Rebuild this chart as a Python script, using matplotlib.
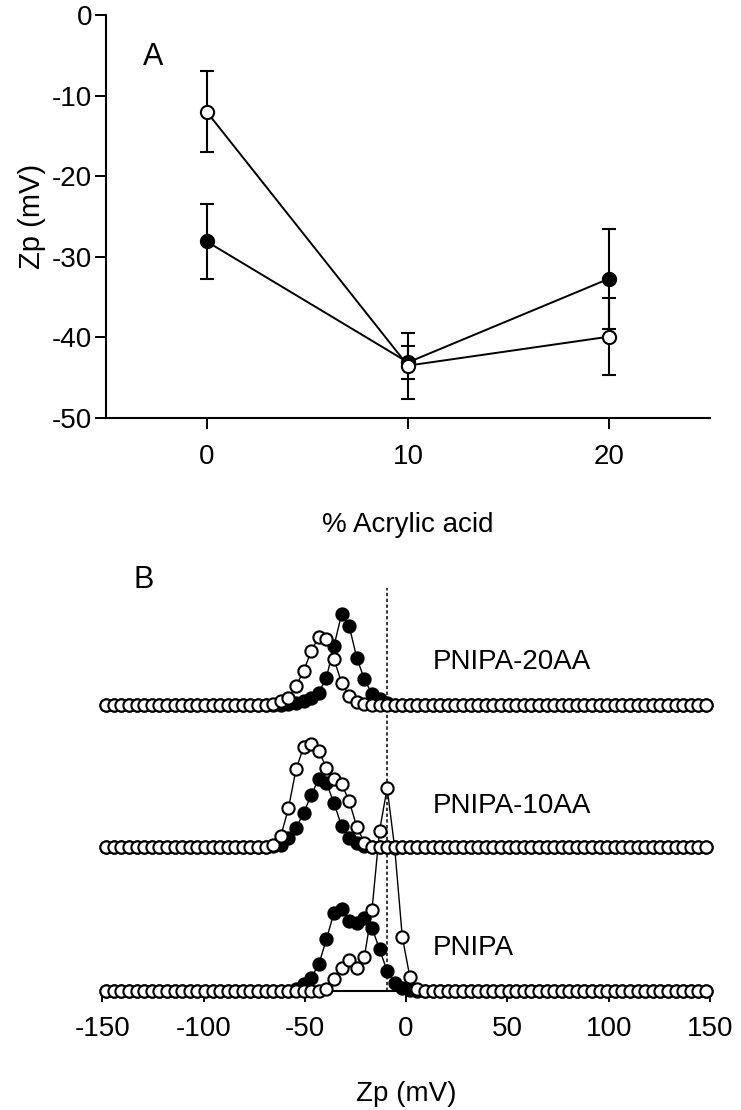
import numpy as np
import matplotlib
matplotlib.use("Agg")
import matplotlib.pyplot as plt

plt.rcParams['font.family'] = ['Liberation Sans', 'DejaVu Sans']
plt.rcParams['axes.unicode_minus'] = False

# ---------------- Panel A data ----------------
acrylic = [0, 10, 20]
zp_open = [-12.0, -43.5, -39.9]
err_open = [5.0, 4.1, 4.8]
zp_filled = [-28.1, -43.1, -32.7]
err_filled = [4.7, 2.05, 6.2]

# ---------------- Panel B data ----------------
n_bins = 80
zp_grid = np.linspace(-148, 148, n_bins)   # zeta potential bins (mV)

# peak segments (intensity, arbitrary units) starting at given bin index
top_open_start = 21
top_open_vals = [0.5, 1.3, 4, 7.3, 19, 34, 54, 68, 65.7, 45.7, 22.3, 9, 3.3, 0.7]
top_filled_start = 24
top_filled_vals = [1, 2, 4.5, 7.3, 12.3, 27.3, 59, 90.7, 79, 47.3, 25.7, 11.3, 5.7, 2]

mid_open_start = 21
mid_open_vals = [0.5, 2, 11, 38.7, 77.7, 100, 102.7, 96, 79.3, 68.3, 63.3, 46, 20.3, 4.3, 0.5]
mid_filled_start = 22
mid_filled_vals = [1, 2, 9, 19, 34, 52, 68, 64, 44, 21, 9, 4, 1.5, 0.5]

bot_open_start = 28
bot_open_vals = [0.5, 1.7, 11.7, 23.3, 30.7, 23.3, 34, 80.7, 160, 203, 143, 54, 14, 1.7, 0.5]
bot_filled_start = 25
bot_filled_vals = [2, 6.7, 13.3, 26.7, 51.7, 78.3, 81.7, 70, 68.3, 73.3, 63.3, 41.7, 20, 8, 3, 1, 0.5]

offsets = {'PNIPA': 0, 'PNIPA-10AA': 144, 'PNIPA-20AA': 286}
ref_line_x = -9.4
ref_line_top = 403


def full(start, vals):
    y = np.zeros(n_bins)
    y[start:start + len(vals)] = vals
    return y


W, H = 741, 1110
fig = plt.figure(figsize=(W / 100, H / 100), dpi=100)
FS = 20

# ---------------- Panel A ----------------
axA = fig.add_axes([106 / W, 1 - 418 / H, 604 / W, 403 / H])
common = dict(color='black', lw=1.4, elinewidth=1.5, capsize=5, capthick=1.5,
              ms=9.5, mew=1.5, mec='black', clip_on=False)
axA.errorbar(acrylic, zp_filled, yerr=err_filled, fmt='-o', mfc='black', zorder=3, **common)
axA.errorbar(acrylic, zp_open, yerr=err_open, fmt='-o', mfc='white', zorder=4, **common)
axA.set_xlim(-5, 25)
axA.set_ylim(-50, 0)
axA.set_xticks([0, 10, 20])
axA.set_yticks([-50, -40, -30, -20, -10, 0])
for s in ['top', 'right']:
    axA.spines[s].set_visible(False)
for s in ['left', 'bottom']:
    axA.spines[s].set_linewidth(1.5)
axA.tick_params(axis='both', direction='out', length=8, width=1.4, labelsize=FS)
axA.tick_params(axis='y', pad=2)
axA.tick_params(axis='x', pad=11)
axA.set_ylabel('Zp (mV)', fontsize=FS + 1, labelpad=4)
axA.set_xlabel('% Acrylic acid', fontsize=FS, labelpad=30)
axA.text(143 / W, 1 - 57 / H, 'A', transform=fig.transFigure, fontsize=22,
         ha='left', va='center')

# ---------------- Panel B ----------------
axB = fig.add_axes([102.2 / W, 1 - 991 / H, 607.8 / W, 410 / H])
mk = dict(marker='o', ms=8.8, mew=1.5, mec='black', color='black', lw=1.0, clip_on=False)
series = [
    ('PNIPA', bot_filled_start, bot_filled_vals, bot_open_start, bot_open_vals),
    ('PNIPA-10AA', mid_filled_start, mid_filled_vals, mid_open_start, mid_open_vals),
    ('PNIPA-20AA', top_filled_start, top_filled_vals, top_open_start, top_open_vals),
]
z = 3
for name, fs, fv, os_, ov in series:
    off = offsets[name]
    axB.plot(zp_grid, full(fs, fv) + off, mfc='black', zorder=z, **mk)
    axB.plot(zp_grid, full(os_, ov) + off, mfc='white', zorder=z + 1, **mk)
    z += 2

axB.plot([ref_line_x, ref_line_x], [0, ref_line_top], color='black', lw=1.1,
         linestyle=(0, (2.2, 1.6)), zorder=2)

axB.set_xlim(-150, 150)
axB.set_ylim(0, 410)
axB.set_xticks([-150, -100, -50, 0, 50, 100, 150])
axB.set_yticks([])
for s in ['top', 'right', 'left']:
    axB.spines[s].set_visible(False)
axB.spines['bottom'].set_linewidth(1.5)
axB.spines['bottom'].set_zorder(1)
axB.tick_params(axis='x', direction='out', length=8, width=1.4, labelsize=FS, pad=10)
axB.set_xlabel('Zp (mV)', fontsize=FS, labelpad=28)

fig.text(433 / W, 1 - 662 / H, 'PNIPA-20AA', fontsize=FS, ha='left', va='center')
fig.text(433 / W, 1 - 806 / H, 'PNIPA-10AA', fontsize=FS, ha='left', va='center')
fig.text(433 / W, 1 - 948 / H, 'PNIPA', fontsize=FS, ha='left', va='center')
fig.text(134 / W, 1 - 580 / H, 'B', fontsize=22, ha='left', va='center')

fig.savefig('out.png', dpi=100)
